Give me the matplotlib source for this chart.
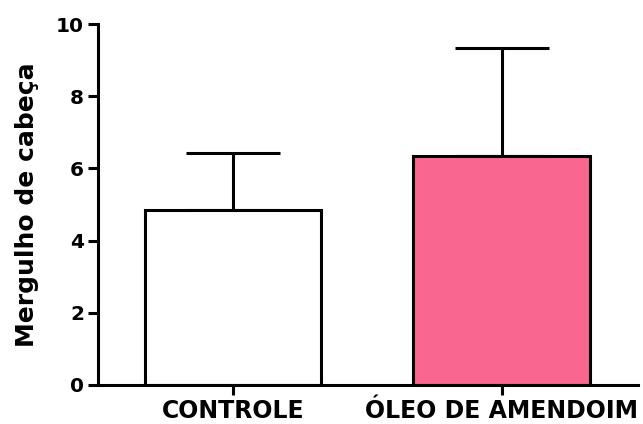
import matplotlib
matplotlib.use("Agg")
import matplotlib.pyplot as plt

categories = ["CONTROLE", "ÓLEO DE AMENDOIM"]
means = [4.85, 6.35]
sem = [1.58, 3.0]
bar_colors = ["#FFFFFF", "#F96690"]
y_ticks = [0, 2, 4, 6, 8, 10]

plt.rcParams["font.family"] = ["DejaVu Sans"]
plt.rcParams["font.weight"] = "bold"

fig = plt.figure(figsize=(6.43, 4.24), dpi=100)
ax = fig.add_axes([0.1524, 0.092, 0.8396, 0.851])

x = list(range(len(categories)))
lw = 2.2
ax.errorbar(x, means, yerr=[[0] * len(sem), sem], fmt="none", ecolor="black",
            elinewidth=lw, capsize=33.5, capthick=lw, zorder=1)
ax.bar(x, means, width=0.658, color=bar_colors, edgecolor="black",
       linewidth=lw, zorder=2)

ax.set_xlim(-0.502, 1.506)
ax.set_ylim(0, 10)
ax.set_yticks(y_ticks)
ax.set_xticks(x)
ax.set_xticklabels(categories, fontsize=17, fontweight="bold")
ax.tick_params(axis="y", labelsize=14.5, width=lw, length=7, pad=3)
ax.tick_params(axis="x", width=lw, length=7, pad=3)
for lab in ax.get_yticklabels():
    lab.set_fontweight("bold")

for side in ("top", "right"):
    ax.spines[side].set_visible(False)
for side in ("left", "bottom"):
    ax.spines[side].set_linewidth(lw)

ax.set_ylabel("Mergulho de cabeça", fontsize=18, fontweight="bold", labelpad=12)

fig.savefig("out.png", dpi=100)
